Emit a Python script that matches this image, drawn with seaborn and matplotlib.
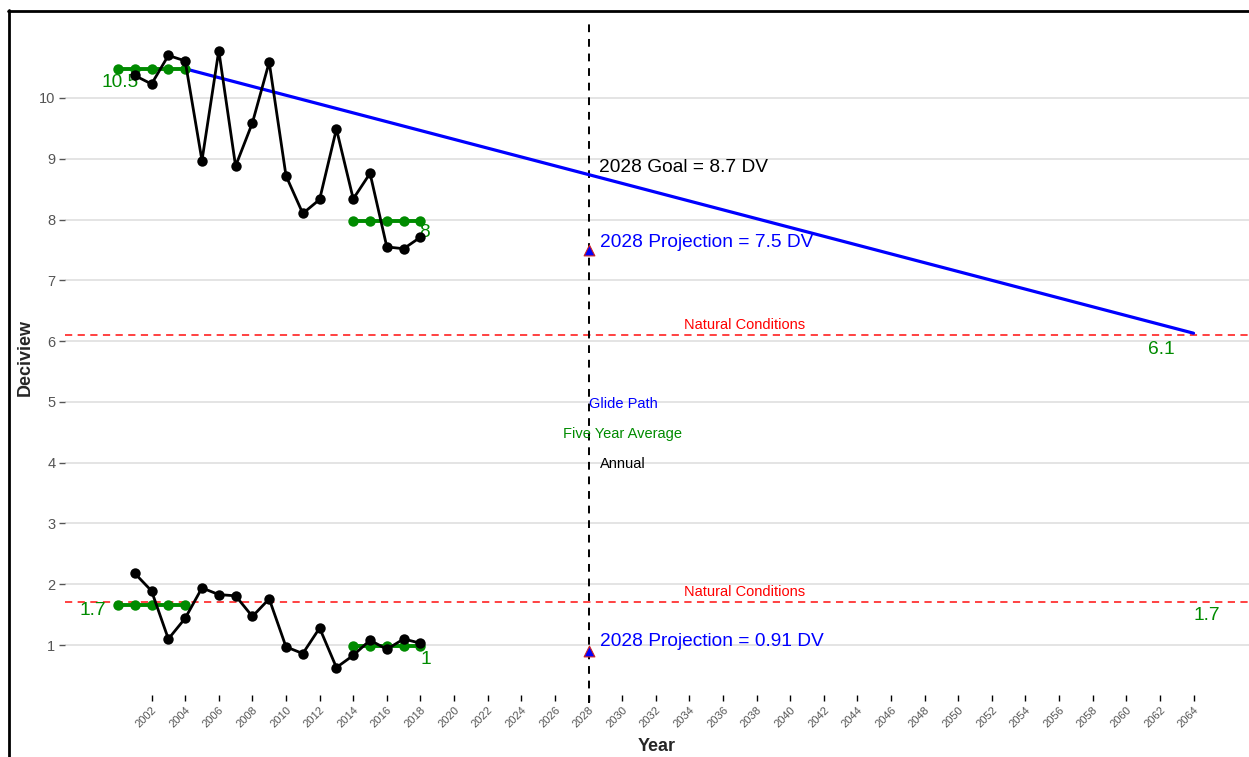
import matplotlib
matplotlib.use("Agg")
import matplotlib.pyplot as plt
import numpy as np
import pandas as pd
import seaborn as sns
from matplotlib.lines import Line2D

# annual deciview, most impaired (top) and clearest (bottom) days
years = [2001, 2002, 2003, 2004, 2005, 2006, 2007, 2008, 2009,
         2010, 2011, 2012, 2013, 2014, 2015, 2016, 2017, 2018]
top_annual = [10.37, 10.23, 10.70, 10.61, 8.97, 10.78, 8.88, 9.59, 10.59,
              8.72, 8.10, 8.33, 9.49, 8.34, 8.76, 7.55, 7.52, 7.71]
bottom_annual = [2.18, 1.89, 1.10, 1.44, 1.94, 1.83, 1.81, 1.47, 1.76,
                 0.97, 0.86, 1.28, 0.63, 0.83, 1.08, 0.93, 1.10, 1.03]

# five year averages
base_years = [2000, 2001, 2002, 2003, 2004]
recent_years = [2014, 2015, 2016, 2017, 2018]
top_base = [10.48] * 5
top_recent = [7.98] * 5
bottom_base = [1.66] * 5
bottom_recent = [0.99] * 5

# glide path and targets
glide_years = [2004, 2064]
glide_values = [10.48, 6.13]
natural_top = 6.1
natural_bottom = 1.7
goal_year = 2028
proj_top = 7.5
proj_bottom = 0.91

x_ticks = list(range(2002, 2066, 2))

GREEN = "#008B00"
BLUE = "#0000FF"
RED = "#FF3333"

sns.set_theme(style="white")
plt.rcParams["font.family"] = ["Liberation Sans", "DejaVu Sans"]

fig = plt.figure(figsize=(12.49, 7.57), dpi=100)
ax = fig.add_axes([65 / 1249, 62 / 757, 1 - 65 / 1249, (695 - 20) / 757])

ax.set_xlim(1996.85, 2067.3)
ax.set_ylim(0.178, 11.283)

for y in range(1, 11):
    ax.axhline(y, color="#dcdcdc", lw=1.1, zorder=0)

for nat in (natural_top, natural_bottom):
    ax.axhline(nat, color=RED, lw=1.3, ls=(0, (4, 3)), zorder=1)

ax.axvline(goal_year, ymin=-0.012, color="black", lw=1.4, ls=(0, (4, 3.5)),
           zorder=1, clip_on=False)

glide = pd.DataFrame({"year": glide_years, "dv": glide_values})
sns.lineplot(data=glide, x="year", y="dv", color=BLUE, lw=2.3, ax=ax, zorder=2)

for yrs, vals in [(years, top_annual), (years, bottom_annual)]:
    df = pd.DataFrame({"year": yrs, "dv": vals})
    sns.lineplot(data=df, x="year", y="dv", color="black", lw=2, marker="o",
                 markersize=7.5, markeredgewidth=0, ax=ax, zorder=4)

for yrs, vals in [(base_years, top_base), (recent_years, top_recent),
                  (base_years, bottom_base), (recent_years, bottom_recent)]:
    df = pd.DataFrame({"year": yrs, "dv": vals})
    sns.lineplot(data=df, x="year", y="dv", color=GREEN, lw=2.8, marker="o",
                 markersize=7.5, markeredgewidth=0, ax=ax, zorder=3)

proj = pd.DataFrame({"year": [goal_year, goal_year], "dv": [proj_top, proj_bottom]})
sns.scatterplot(data=proj, x="year", y="dv", marker="^", s=60, color=BLUE,
                edgecolor="#cc2222", linewidth=0.8, ax=ax, zorder=5)

# value labels
big = 13.8
small = 10.5
ax.text(2000.1, 10.26, "10.5", color=GREEN, fontsize=big, ha="center", va="center")
ax.text(2018.25, 7.78, "8", color=GREEN, fontsize=big, ha="center", va="center")
ax.text(1998.5, 1.56, "1.7", color=GREEN, fontsize=big, ha="center", va="center")
ax.text(2018.3, 0.76, "1", color=GREEN, fontsize=big, ha="center", va="center")
ax.text(2062.1, 5.87, "6.1", color=GREEN, fontsize=big, ha="center", va="center")
ax.text(2064.8, 1.48, "1.7", color=GREEN, fontsize=big, ha="center", va="center")

ax.text(2037.3, 6.27, "Natural Conditions", color="#FF0000", fontsize=small,
        ha="center", va="center")
ax.text(2037.3, 1.87, "Natural Conditions", color="#FF0000", fontsize=small,
        ha="center", va="center")

ax.text(2028.6, 8.85, f"{goal_year} Goal = 8.7 DV", color="black", fontsize=big,
        ha="left", va="center")
ax.text(2028.7, 7.63, f"{goal_year} Projection = {proj_top} DV", color=BLUE,
        fontsize=big, ha="left", va="center")
ax.text(2028.7, 1.05, f"{goal_year} Projection = {proj_bottom} DV", color=BLUE,
        fontsize=big, ha="left", va="center")

ax.text(2030.05, 4.97, "Glide Path", color=BLUE, fontsize=small, ha="center", va="center")
ax.text(2030.05, 4.47, "Five Year Average", color=GREEN, fontsize=small,
        ha="center", va="center")
ax.text(2030.05, 3.98, "Annual", color="black", fontsize=small, ha="center", va="center")

ax.set_xticks(x_ticks)
ax.set_xticklabels([str(t) for t in x_ticks], rotation=45, ha="right",
                   rotation_mode="anchor", fontsize=8, color="#555555")
ax.set_yticks(range(1, 11))
ax.set_yticklabels([str(t) for t in range(1, 11)], fontsize=10.5, color="#555555")
ax.tick_params(axis="x", length=4, width=1, color="black", pad=3, bottom=True)
ax.tick_params(axis="y", length=4, width=1, color="#555555", pad=3, left=True)

ax.set_xlabel("Year", fontsize=13, fontweight="bold", labelpad=6)
ax.set_ylabel("Deciview", fontsize=13, fontweight="bold", labelpad=4)

for s in ax.spines.values():
    s.set_visible(False)
ax.grid(False)

# screenshot frame
fig.add_artist(Line2D([8 / 1249, 1], [1 - 10.5 / 757, 1 - 10.5 / 757],
                      color="black", lw=2, transform=fig.transFigure))
fig.add_artist(Line2D([8.5 / 1249, 8.5 / 1249], [0, 1 - 10 / 757],
                      color="black", lw=2, transform=fig.transFigure))

fig.savefig("out.png", dpi=100)
